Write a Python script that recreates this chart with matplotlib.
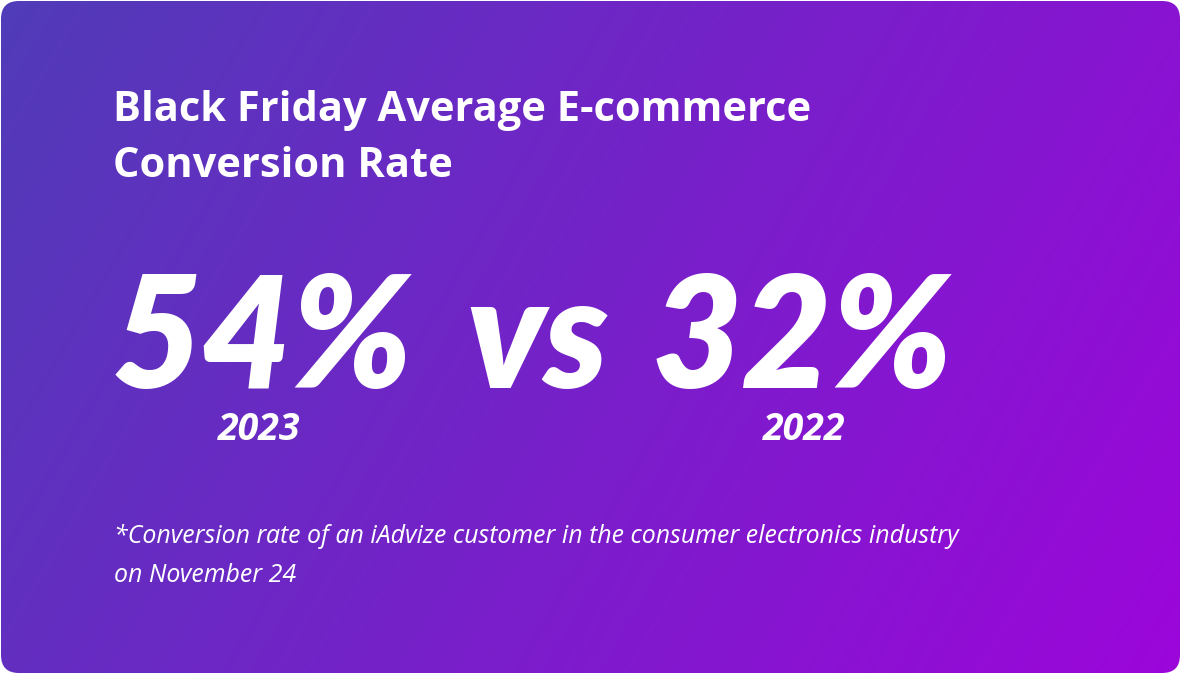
import numpy as np
import matplotlib
matplotlib.use("Agg")
import matplotlib.pyplot as plt
from matplotlib.patches import FancyBboxPatch

title = ["Black Friday Average E-commerce", "Conversion Rate"]
values = [54, 32]
years = ["2023", "2022"]
footnote = ["*Conversion rate of an iAdvize customer in the consumer electronics industry", "on November 24"]

W, H = 1181, 674
fig = plt.figure(figsize=(W/100, H/100), dpi=100)
fig.patch.set_facecolor("white")
ax = fig.add_axes([0, 0, 1, 1])
ax.set_xlim(0, W); ax.set_ylim(H, 0); ax.axis("off")

c1 = np.array([0x50, 0x3C, 0xB8]) / 255
c2 = np.array([0x9C, 0x06, 0xDA]) / 255
yy, xx = np.mgrid[0:H, 0:W]
t = (xx / W * 0.75 + yy / H * 0.25)
img = c1[None, None, :] * (1 - t[..., None]) + c2[None, None, :] * t[..., None]
im = ax.imshow(img, extent=[0, W, H, 0], zorder=0)
clip = FancyBboxPatch((1, 1), W - 2, H - 2, boxstyle="round,pad=0,rounding_size=18",
                      transform=ax.transData, facecolor="none", edgecolor="none")
ax.add_patch(clip)
im.set_clip_path(clip)
ax.set_xlim(0, W); ax.set_ylim(H, 0)

font = "Lato"
font2 = "Open Sans"
ax.text(113, 121, title[0], color="white", fontsize=30, fontweight="bold", family=font2, va="baseline")
ax.text(113, 177, title[1], color="white", fontsize=30, fontweight="bold", family=font2, va="baseline")

ax.text(112, 388, f"{values[0]}%", color="white", fontsize=112, fontweight="black",
        style="italic", family=font, va="baseline")
ax.text(466, 388, "vs", color="white", fontsize=112, fontweight="black",
        style="italic", family=font, va="baseline")
ax.text(652, 388, f"{values[1]}%", color="white", fontsize=112, fontweight="black",
        style="italic", family=font, va="baseline")

ax.text(218, 440, years[0], color="white", fontsize=27, fontweight="bold", style="italic", family=font2, va="baseline")
ax.text(763, 440, years[1], color="white", fontsize=27, fontweight="bold", style="italic", family=font2, va="baseline")

ax.text(114, 543, footnote[0], color="white", fontsize=18, style="italic", family=font2, va="baseline")
ax.text(114, 582, footnote[1], color="white", fontsize=18, style="italic", family=font2, va="baseline")

fig.savefig("out.png", dpi=100)
